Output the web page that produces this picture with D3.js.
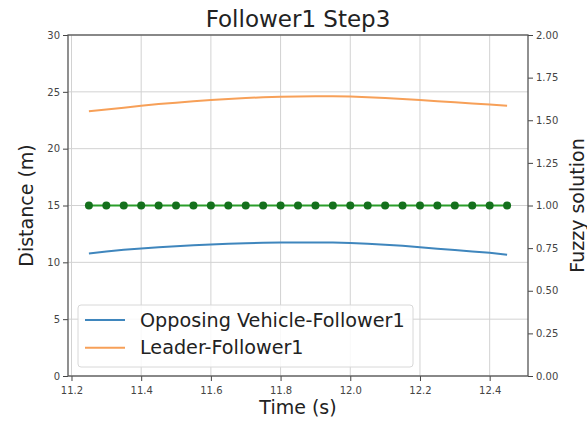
<!DOCTYPE html>
<html><head><meta charset="utf-8">
<script src="https://cdn.jsdelivr.net/npm/d3@7"></script>
<style>body{margin:0;background:#fff}svg{display:block;font-family:"DejaVu Sans",sans-serif}</style>
</head><body>
<svg id="c" width="587" height="426"></svg>
<script>
const time = [11.25,11.30,11.35,11.40,11.45,11.50,11.55,11.60,11.65,11.70,11.75,11.80,11.85,11.90,11.95,12.00,12.05,12.10,12.15,12.20,12.25,12.30,12.35,12.40,12.45];
const opposing = [10.78,10.95,11.10,11.22,11.32,11.41,11.50,11.57,11.63,11.68,11.72,11.74,11.75,11.75,11.74,11.70,11.63,11.55,11.45,11.33,11.20,11.08,10.96,10.84,10.66];
const leader = [23.30,23.45,23.60,23.78,23.92,24.05,24.17,24.28,24.37,24.45,24.52,24.57,24.60,24.62,24.61,24.58,24.52,24.45,24.37,24.28,24.18,24.08,23.98,23.88,23.78];
const fuzzy = [1,1,1,1,1,1,1,1,1,1,1,1,1,1,1,1,1,1,1,1,1,1,1,1,1];
const xTicks = [11.2,11.4,11.6,11.8,12.0,12.2,12.4];
const yLeftTicks = [0,5,10,15,20,25,30];
const yRightTicks = [0,0.25,0.5,0.75,1.0,1.25,1.5,1.75,2.0];
const seriesNames = ["Opposing Vehicle-Follower1","Leader-Follower1"];
const title = "Follower1 Step3";

const L=68,R=528,T=35,B=376;
const svg=d3.select("#c");
const x=d3.scaleLinear().domain([11.19,12.51]).range([L,R]);
const yL=d3.scaleLinear().domain([0,30]).range([B,T]);
const yR=d3.scaleLinear().domain([0,2]).range([B,T]);

// grid
const g=svg.append("g");
g.selectAll(".vx").data(xTicks).join("line").attr("x1",d=>x(d)).attr("x2",d=>x(d)).attr("y1",T).attr("y2",B)
 .attr("stroke","#d2d2d2").attr("stroke-width",1);
g.selectAll(".hy").data(yLeftTicks).join("line").attr("x1",L).attr("x2",R).attr("y1",d=>yL(d)).attr("y2",d=>yL(d))
 .attr("stroke","#d2d2d2").attr("stroke-width",1);

const line=d3.line().x((d,i)=>x(time[i])).y(d=>yL(d));
svg.append("path").datum(opposing).attr("d",line).attr("fill","none").attr("stroke","#3f86bd").attr("stroke-width",2);
svg.append("path").datum(leader).attr("d",line).attr("fill","none").attr("stroke","#f7a058").attr("stroke-width",2);

const lineR=d3.line().x((d,i)=>x(time[i])).y(d=>yR(d));
svg.append("path").datum(fuzzy).attr("d",lineR).attr("fill","none").attr("stroke","#2a9e2a").attr("stroke-width",2);
svg.selectAll(".dot").data(fuzzy).join("circle").attr("cx",(d,i)=>x(time[i])).attr("cy",d=>yR(d)).attr("r",4)
 .attr("fill","#14701c");

// axes
const ax=svg.append("g").attr("transform",`translate(0,${B})`).call(d3.axisBottom(x).tickValues(xTicks).tickFormat(d3.format(".1f")).tickSize(5).tickSizeOuter(0));
const ayl=svg.append("g").attr("transform",`translate(${L},0)`).call(d3.axisLeft(yL).tickValues(yLeftTicks).tickFormat(d3.format("d")).tickSize(5).tickSizeOuter(0));
const ayr=svg.append("g").attr("transform",`translate(${R},0)`).call(d3.axisRight(yR).tickValues(yRightTicks).tickFormat(d3.format(".2f")).tickSize(5).tickSizeOuter(0));
[ax,ayl,ayr].forEach(a=>{a.select(".domain").remove();a.selectAll("line").attr("stroke","#444").attr("stroke-width",1);
 a.selectAll("text").attr("font-size",10).attr("fill","#444").attr("font-family","DejaVu Sans");});
ax.selectAll("text").attr("dy","1.0em");
// frame
svg.append("rect").attr("x",L).attr("y",T).attr("width",R-L).attr("height",B-T).attr("fill","none").attr("stroke","#555").attr("stroke-width",1.3);

// labels
svg.append("text").attr("x",298).attr("y",27).attr("text-anchor","middle").attr("font-size",23).attr("fill","#222").text(title);
svg.append("text").attr("x",298).attr("y",414).attr("text-anchor","middle").attr("font-size",19).attr("fill","#222").text("Time (s)");
svg.append("text").attr("transform","translate(33,205.5) rotate(-90)").attr("text-anchor","middle").attr("font-size",19).attr("fill","#222").text("Distance (m)");
svg.append("text").attr("transform","translate(584,205.5) rotate(-90)").attr("text-anchor","middle").attr("font-size",19).attr("fill","#222").text("Fuzzy solution");

// legend
const lg=svg.append("g");
lg.append("rect").attr("x",78).attr("y",305).attr("width",335).attr("height",62).attr("rx",3)
 .attr("fill","#fff").attr("fill-opacity",0.85).attr("stroke","#d8d8d8");
const cols=["#3f86bd","#f7a058"];
seriesNames.forEach((n,i)=>{
  const yy=320+i*27.7;
  lg.append("line").attr("x1",85).attr("x2",125).attr("y1",yy).attr("y2",yy).attr("stroke",cols[i]).attr("stroke-width",2);
  lg.append("text").attr("x",140).attr("y",yy).attr("dy","0.35em").attr("font-size",19.2).attr("fill","#222").text(n);
});
</script>
</body></html>
